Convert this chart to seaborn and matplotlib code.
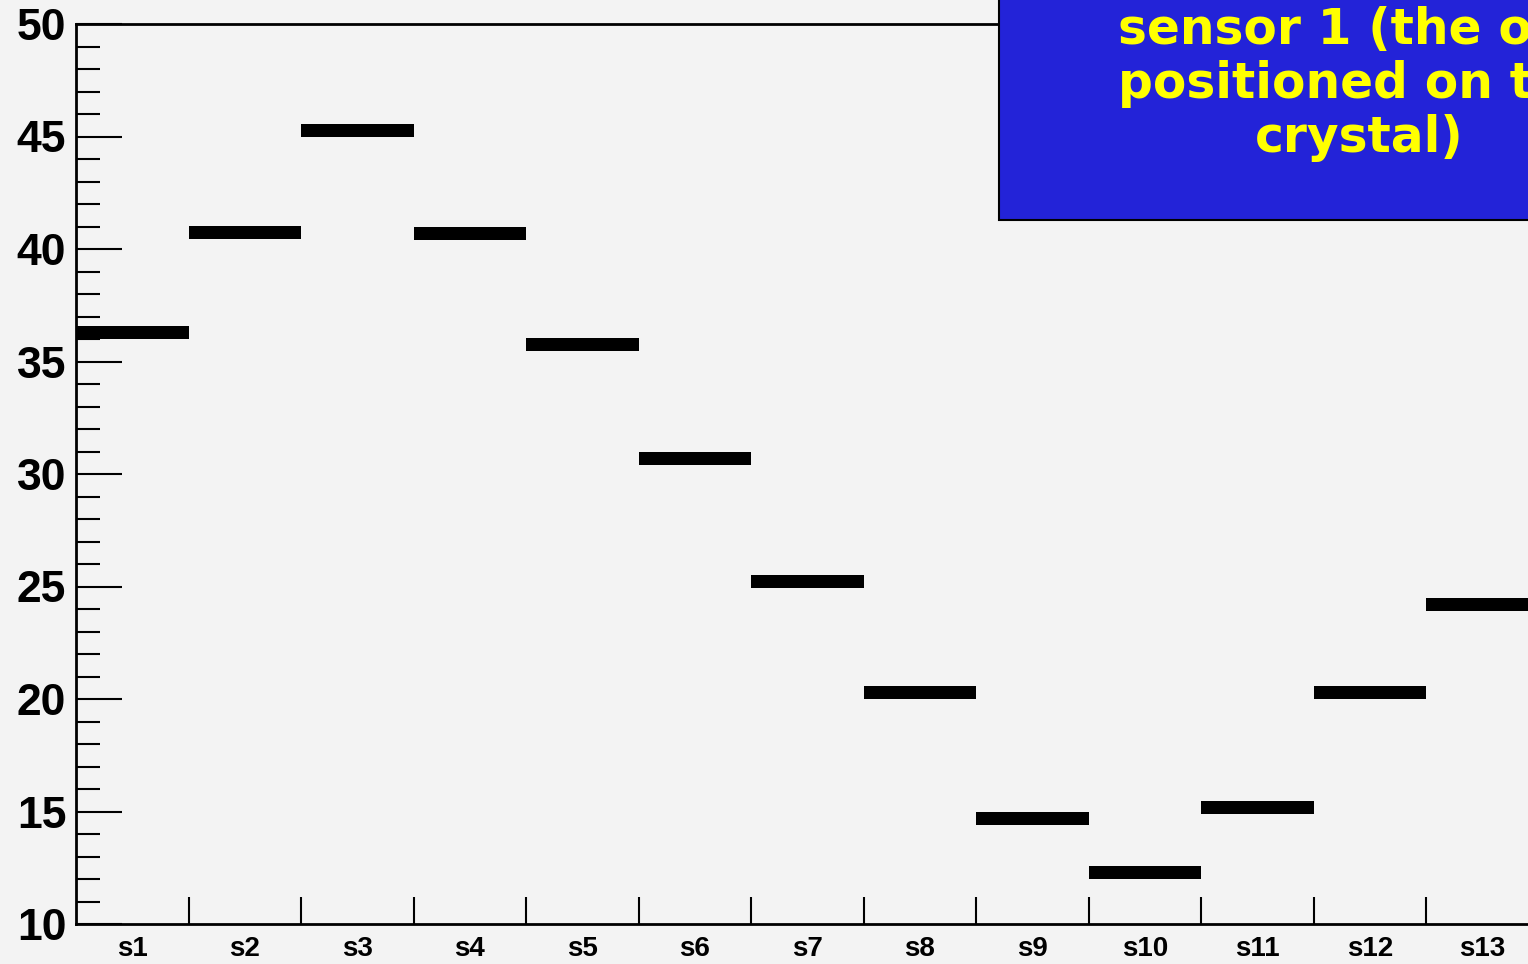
import numpy as np
import pandas as pd
import seaborn as sns
import matplotlib
matplotlib.use("Agg")
import matplotlib.pyplot as plt
from matplotlib.path import Path
from matplotlib.patches import Rectangle
from matplotlib.ticker import MultipleLocator, FixedLocator

# ---- data ----
sensors = ["s1", "s2", "s3", "s4", "s5", "s6", "s7", "s8", "s9", "s10", "s11", "s12", "s13"]
values = [36.27, 40.72, 45.25, 40.71, 35.76, 30.67, 25.23, 20.27, 14.70, 12.29, 15.20, 20.28, 24.20]
y_ticks = [10, 15, 20, 25, 30, 35, 40, 45, 50]
title_text = "sensor 1 (the one\npositioned on the\ncrystal)"

df = pd.DataFrame({"sensor": sensors, "value": values})

sns.set_theme(style="ticks")
plt.rcParams["font.family"] = ["Liberation Sans", "DejaVu Sans"]
plt.rcParams["text.color"] = "black"
plt.rcParams["xtick.labelcolor"] = "black"
plt.rcParams["ytick.labelcolor"] = "black"

BG = "#f3f3f3"
fig = plt.figure(figsize=(15.28, 9.64), dpi=100, facecolor=BG)
ax = fig.add_axes([76 / 1528, 40 / 964, 1462.5 / 1528, 900 / 964], facecolor=BG)

# wide flat rectangle marker spanning one category bin
w, h = 1.0, 13 / 112.5
rect = Path([(-w / 2, -h / 2), (w / 2, -h / 2), (w / 2, h / 2), (-w / 2, h / 2), (-w / 2, -h / 2)],
            [Path.MOVETO, Path.LINETO, Path.LINETO, Path.LINETO, Path.CLOSEPOLY])
bin_pt = 112.5 * 72 / 100
sns.scatterplot(data=df, x="sensor", y="value", marker=rect, s=bin_pt ** 2,
                color="black", edgecolor="none", linewidth=0, ax=ax, legend=False)

ax.set_xlim(-0.5, len(sensors) - 0.5)
ax.set_ylim(10, 50)
ax.set_xlabel("")
ax.set_ylabel("")

for side in ["left", "bottom", "top", "right"]:
    ax.spines[side].set_linewidth(2.0)
    ax.spines[side].set_color("black")

ax.yaxis.set_major_locator(FixedLocator(y_ticks))
ax.yaxis.set_minor_locator(MultipleLocator(1))
ax.tick_params(axis="y", which="major", direction="in", length=33, width=1.5,
               labelsize=32, pad=7, color="black", labelcolor="black")
ax.tick_params(axis="y", which="minor", direction="in", length=17, width=1.5, color="black")
for lab in ax.get_yticklabels():
    lab.set_fontweight("bold")

ax.set_xticks(range(len(sensors)))
ax.set_xticklabels(sensors)
ax.xaxis.set_minor_locator(FixedLocator(np.arange(len(sensors)) + 0.5))
ax.tick_params(axis="x", which="major", length=0, labelsize=20, pad=9, labelcolor="black")
ax.tick_params(axis="x", which="minor", direction="in", length=19.5, width=1.5, color="black")
for lab in ax.get_xticklabels():
    lab.set_fontweight("bold")

# title box
fig.patches.append(Rectangle((999 / 1528, (964 - 220) / 964), 740 / 1528, 260 / 964,
                             transform=fig.transFigure, facecolor="#2323d8",
                             edgecolor="black", linewidth=1.5, zorder=5))
fig.text(1359 / 1528, 1 - 84 / 964, title_text, ha="center", va="center",
         multialignment="center", color="#ffff00", fontsize=35, fontweight="bold",
         family=["DejaVu Sans"], linespacing=1.17, zorder=6)

fig.savefig("out.png", dpi=100, facecolor=BG)
